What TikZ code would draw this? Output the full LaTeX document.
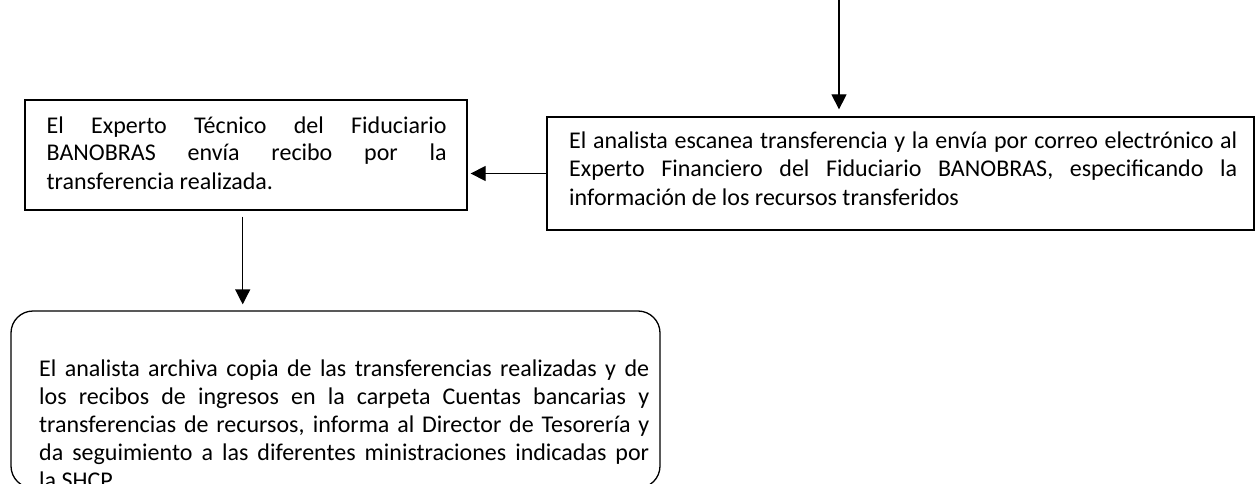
\documentclass[tikz,border=0pt]{standalone}
\usepackage{fontspec}
\setmainfont{Carlito}
\usetikzlibrary{arrows.meta}
\begin{document}
\begin{tikzpicture}[x=1pt,y=-1pt,
  frame/.style={draw=black, line width=1.3pt, inner sep=0pt},
  txt/.style={inner sep=0pt, align=justify, anchor=base west, font=\fontsize{24}{28}\selectfont},
  arr/.style={line width=1.3pt, -{Triangle[length=15pt,width=15pt]}}
]
\fill[white] (0,0) rectangle (1255,484);
\useasboundingbox (0,0) rectangle (1255,484);

\node[frame, minimum width=442pt, minimum height=110pt] (A) at (246,155) {};
\node[frame, minimum width=707pt, minimum height=113pt] (B) at (900.5,173.5) {};
\node[frame, rounded corners=22pt, minimum width=649pt, minimum height=177pt] (C) at (335.5,399.5) {};

\node[txt, text width=400pt] (At) at (46.5,133) {El Experto Técnico del Fiduciario\linebreak BANOBRAS envía recibo por la\linebreak transferencia realizada.};
\node[txt, text width=668pt] (Bt) at (569,149) {El analista escanea transferencia y la envía por correo electrónico al\linebreak Experto Financiero del Fiduciario BANOBRAS, especificando la\linebreak información de los recursos transferidos};
\node[txt, text width=610pt] (Ct) at (39,376) {El analista archiva copia de las transferencias realizadas y de\linebreak los recibos de ingresos en la carpeta Cuentas bancarias y\linebreak transferencias de recursos, informa al Director de Tesorería y\linebreak da seguimiento a las diferentes ministraciones indicadas por\linebreak la SHCP.};

\coordinate (top) at (839,0);
\draw[arr, shorten >=7pt] (top) -- (top |- B.north);
\draw[arr, shorten >=3pt] (B.west) -- (A.east |- B.west);
\draw[arr, shorten <=6pt, shorten >=6pt] ([xshift=-3.3pt]A.south) -- ([xshift=-3.3pt]A.south |- C.north);
\end{tikzpicture}
\end{document}
